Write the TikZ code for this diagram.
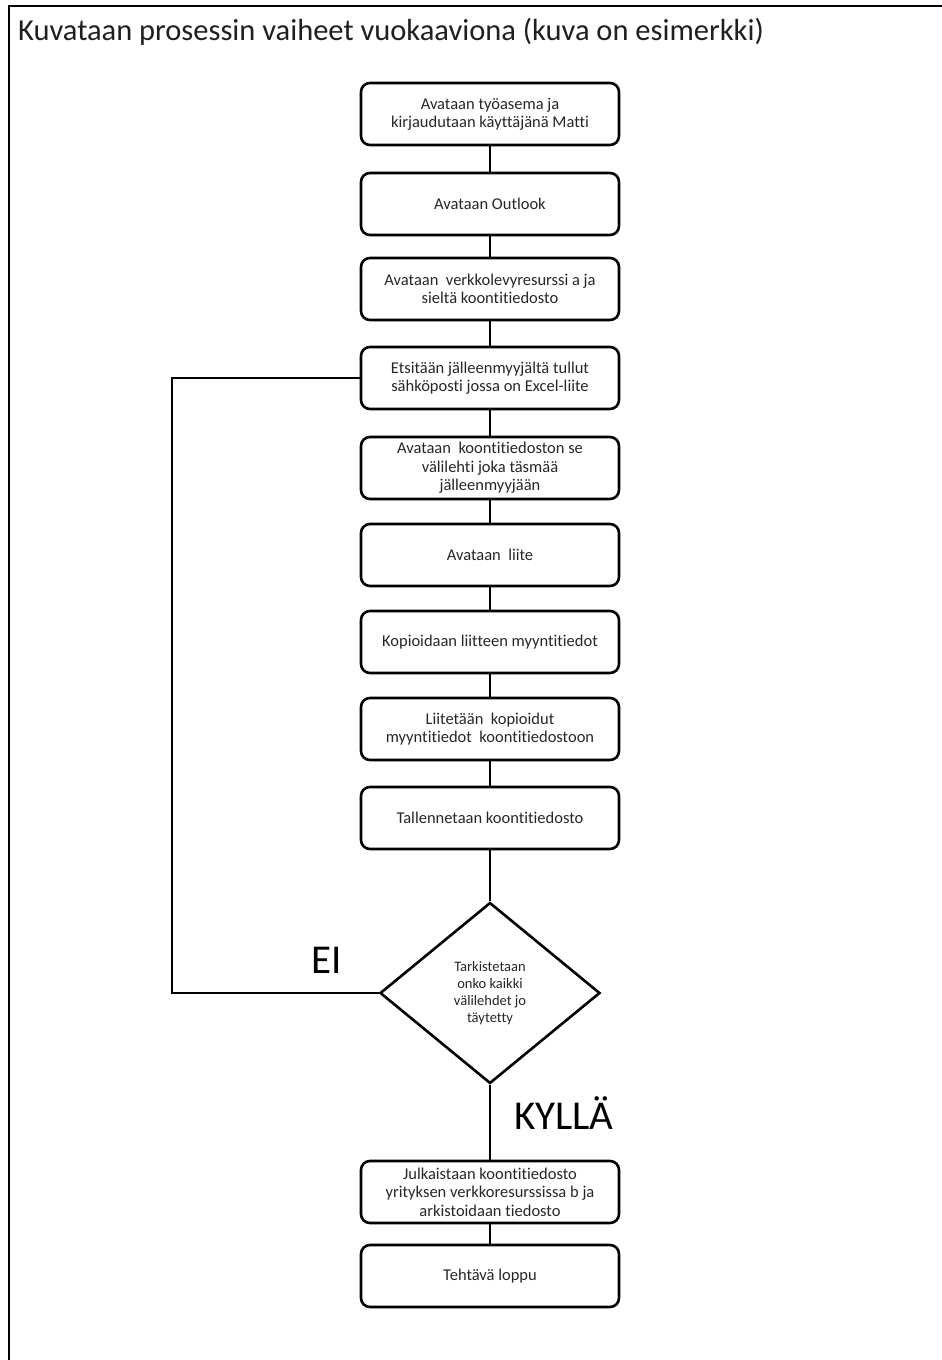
\documentclass[tikz,border=0pt]{standalone}
\usepackage{fontspec}
\setmainfont{Carlito}[Ligatures=CommonOff]
\usetikzlibrary{shapes.geometric}

\tikzset{
 vaihe/.style={draw,line width=2.6pt,rounded corners=9pt,minimum width=258pt,
   minimum height=62pt,inner sep=0pt,align=center,text=black!85,
   font=\fontsize{16.5}{18.5}\selectfont},
 ehto/.style={draw,diamond,line width=2.6pt,minimum width=220pt,minimum height=181pt,
   inner sep=0pt,align=center,text=black!85,font=\fontsize{14.5}{17}\selectfont},
 yhteys/.style={line width=1.8pt},
 iso/.style={anchor=base,font=\fontsize{41}{48}\selectfont},
}

\begin{document}
\begin{tikzpicture}[x=1pt,y=-1pt]
 \useasboundingbox (0,0) rectangle (942,1360);
 \draw[line width=2pt] (9,1360)--(9,6)--(942,6); %kehys
 \node[anchor=base west,inner sep=0pt,text=black!88,font=\fontsize{30.5}{36}\selectfont] (otsikko) at (18,40)
   {Kuvataan prosessin vaiheet vuokaaviona (kuva on esimerkki)}; %otsikko
 \node[vaihe] (v1) at (490,114) {Avataan työasema ja\\kirjaudutaan käyttäjänä Matti};
 \node[vaihe] (v2) at (490,204) {Avataan Outlook};
 \node[vaihe] (v3) at (490,289) {Avataan\ \ verkkolevyresurssi a ja\\sieltä koontitiedosto};
 \node[vaihe] (v4) at (490,378) {Etsitään jälleenmyyjältä tullut\\sähköposti jossa on Excel-liite};
 \node[vaihe] (v5) at (490,468) {Avataan\ \ koontitiedoston se\\välilehti joka täsmää\\jälleenmyyjään};
 \node[vaihe] (v6) at (490,555) {Avataan\ \ liite};
 \node[vaihe] (v7) at (490,642) {Kopioidaan liitteen myyntitiedot};
 \node[vaihe] (v8) at (490,729) {Liitetään\ \ kopioidut\\myyntitiedot\ \ koontitiedostoon};
 \node[vaihe] (v9) at (490,818) {Tallennetaan koontitiedosto};
 \node[ehto] (ehto) at (490,993) {Tarkistetaan\\onko kaikki\\välilehdet jo\\täytetty}; %päätös
 \node[vaihe] (v10) at (490,1192) {Julkaistaan koontitiedosto\\yrityksen verkkoresurssissa b ja\\arkistoidaan tiedosto};
 \node[vaihe] (v11) at (490,1276) {Tehtävä loppu};
 \foreach \a/\b in {v1/v2,v2/v3,v3/v4,v4/v5,v5/v6,v6/v7,v7/v8,v8/v9,v9/ehto,ehto/v10,v10/v11}
   \draw[yhteys] (\a)--(\b);
 \coordinate (paluu) at (172,993); %paluukulma
 \draw[yhteys] (ehto.west)--(paluu)|-(v4.west); %EI-haara
 \node[iso] (ei) at (327,973) {EI};
 \node[iso] (kylla) at (564,1129) {KYLLÄ};
\end{tikzpicture}
\end{document}
